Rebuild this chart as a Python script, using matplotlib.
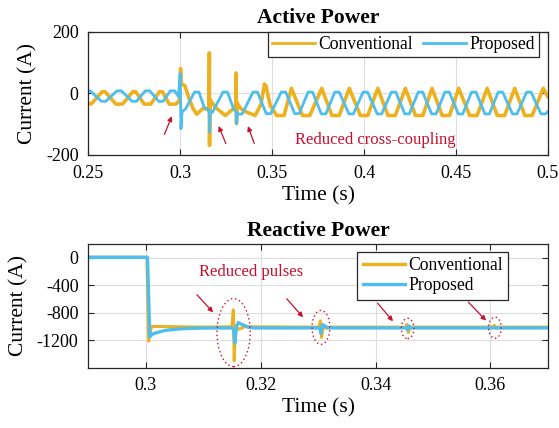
import matplotlib
matplotlib.use("Agg")
import matplotlib.pyplot as plt
from matplotlib.patches import Ellipse

# --- data ---
# Active power: q-axis current (time, value)
t_conv_ap = [0.2500, 0.2515, 0.2575, 0.2591, 0.2650, 0.2686, 0.2742, 0.2758,
             0.2804, 0.2840, 0.2887, 0.2903, 0.2940, 0.2976, 0.2995, 0.3002,
             0.3006, 0.3025, 0.3050, 0.3070, 0.3090, 0.3125, 0.3157, 0.31585,
             0.31595, 0.3162, 0.3190, 0.3245, 0.3285, 0.33025, 0.3304, 0.3306,
             0.3309, 0.3330, 0.3365, 0.3408, 0.3440, 0.3458, 0.3466, 0.3490,
             0.3525, 0.3565, 0.3605, 0.3665, 0.3705, 0.3770, 0.3825, 0.3865,
             0.3920, 0.3980, 0.4020, 0.4075, 0.4130, 0.4170, 0.4225, 0.4280,
             0.4320, 0.4370, 0.4425, 0.4465, 0.4515, 0.4575, 0.4615, 0.4670,
             0.4725, 0.4765, 0.4820, 0.4875, 0.4915, 0.4975, 0.5000]
i_conv_ap = [-32, -35, 5, 5, -35, -35, 5, 5,
             -35, -35, 5, 5, -35, -35, -25, 80,
             30, 25, -20, -50, -68, -48, -55, 131,
             -169, -20, -45, -72, -52, -50, 66, -98,
             -30, -50, -62, -72, -35, 30, 25, -40,
             -72, -72, 16, -72, -72, 16, -72, -72,
             16, -72, -72, 16, -72, -72, 16, -72,
             -72, 16, -72, -72, 16, -72, -72, 16,
             -72, -72, 16, -72, -72, 16, -10]

t_prop_ap = [0.2500, 0.2510, 0.2571, 0.2595, 0.2656, 0.2680, 0.2738, 0.2762,
             0.2810, 0.2834, 0.2883, 0.2907, 0.2946, 0.2970, 0.2990, 0.3000,
             0.3004, 0.3010, 0.3030, 0.3078, 0.3102, 0.3130, 0.3157, 0.3159,
             0.3162, 0.3175, 0.3233, 0.3257, 0.3290, 0.3305, 0.3307, 0.3310,
             0.3326, 0.3338, 0.3396, 0.3420, 0.3468, 0.3492, 0.3550, 0.3574,
             0.3623, 0.3647, 0.3696, 0.3720, 0.3768, 0.3792, 0.3841, 0.3865,
             0.3918, 0.3942, 0.3995, 0.4019, 0.4072, 0.4096, 0.4149, 0.4173,
             0.4222, 0.4246, 0.4295, 0.4319, 0.4368, 0.4392, 0.4440, 0.4464,
             0.4513, 0.4537, 0.4585, 0.4609, 0.4658, 0.4682, 0.4730, 0.4754,
             0.4808, 0.4832, 0.4885, 0.4909, 0.4963, 0.4987, 0.5000]
i_prop_ap = [8, 8, -26, -26, 8, 8, -26, -26,
             8, 8, -26, -26, 8, 8, -10, 65,
             -115, -60, -50, 4, 4, -45, -55, -126,
             -60, -62, 4, 4, -50, -60, -99, -65,
             -68, -66, 4, 4, -66, -66, 4, 4,
             -66, -66, 4, 4, -67, -67, 4, 4,
             -67, -67, 4, 4, -67, -67, 4, 4,
             -67, -67, 4, 4, -67, -67, 4, 4,
             -67, -67, 4, 4, -67, -67, 4, 4,
             -67, -67, 4, 4, -67, -67, -60]

# Reactive power: d-axis current
t_conv_rp = [0.2900, 0.3002, 0.3005, 0.3010, 0.3100, 0.3150, 0.31525, 0.3154,
             0.3156, 0.3162, 0.3172, 0.3302, 0.3304, 0.3306, 0.3309, 0.3315,
             0.3322, 0.3453, 0.3455, 0.3457, 0.3460, 0.3605, 0.3607, 0.3610,
             0.3613, 0.3700]
i_conv_rp = [8, 8, -1215, -1000, -1010, -1005, -760, -1500,
             -1000, -1040, -1005, -1010, -920, -1160, -1000, -1030,
             -1010, -1010, -970, -1090, -1010, -1010, -985, -1025,
             -1010, -1010]

t_prop_rp = [0.2900, 0.3003, 0.3007, 0.3012, 0.3019, 0.3036, 0.3060, 0.3095,
             0.3150, 0.3153, 0.3155, 0.3158, 0.3161, 0.3168, 0.3180, 0.3190,
             0.3303, 0.3305, 0.3308, 0.3315, 0.3320, 0.3454, 0.3456, 0.3458,
             0.3462, 0.3700]
i_prop_rp = [5, 5, -1150, -1110, -1090, -1055, -1035, -1024,
             -1022, -1050, -1240, -1000, -945, -975, -1015, -1022,
             -1022, -1100, -975, -1010, -1022, -1022, -1050, -995,
             -1022, -1022]

labels = ["Conventional", "Proposed"]
colors = ["#EDB120", "#4DBEEE"]

plt.rcParams["font.family"] = ["Liberation Serif", "DejaVu Serif"]
plt.rcParams["axes.unicode_minus"] = False

fig = plt.figure(figsize=(5.59, 4.28), dpi=100)
ax1 = fig.add_axes([0.158, 0.638, 0.822, 0.288])
ax2 = fig.add_axes([0.158, 0.141, 0.822, 0.289])

red = "#C8102E"

def style(ax):
    ax.grid(True, color="#dedede", lw=0.8)
    ax.set_axisbelow(True)
    ax.tick_params(direction="in", top=True, right=True, length=4,
                   labelsize=13, pad=7, color="#262626")
    for s in ax.spines.values():
        s.set_color("#262626")
        s.set_linewidth(0.9)

# Active power
ax1.plot(t_conv_ap, i_conv_ap, color=colors[0], lw=2.6, label=labels[0])
ax1.plot(t_prop_ap, i_prop_ap, color=colors[1], lw=2.0, label=labels[1])
ax1.set_xlim(0.25, 0.5)
ax1.set_ylim(-200, 200)
ax1.set_xticks([0.25, 0.3, 0.35, 0.4, 0.45, 0.5])
ax1.set_xticklabels(["0.25", "0.3", "0.35", "0.4", "0.45", "0.5"])
ax1.set_yticks([-200, 0, 200])
style(ax1)
ax1.set_xlabel("Time (s)", fontsize=15.5, labelpad=3)
ax1.set_ylabel("Current (A)", fontsize=15.5, labelpad=6)
ax1.set_title("Active Power", fontsize=15.5, fontweight="bold", pad=6)
leg1 = ax1.legend(loc="upper right", bbox_to_anchor=(0.981, 1.0), ncol=2,
                  fontsize=12.7, borderaxespad=0, handlelength=2.4,
                  handletextpad=0.2, columnspacing=0.6, borderpad=0.25,
                  fancybox=False, framealpha=1, edgecolor="#262626")
leg1.get_frame().set_linewidth(0.9)
for h in leg1.get_lines():
    h.set_linewidth(2.0)

arrow = dict(arrowstyle="-|>", color=red, lw=0.9, mutation_scale=7)
ax1.annotate("", xy=(0.2960, -66), xytext=(0.2908, -142), arrowprops=arrow)
ax1.annotate("", xy=(0.3203, -98), xytext=(0.3254, -171), arrowprops=arrow)
ax1.annotate("", xy=(0.3363, -98), xytext=(0.3408, -171), arrowprops=arrow)
ax1.text(0.4061, -153, "Reduced cross-coupling", color=red, fontsize=12,
         ha="center", va="center")

# Reactive power
ax2.plot(t_conv_rp, i_conv_rp, color=colors[0], lw=2.2, label=labels[0])
ax2.plot(t_prop_rp, i_prop_rp, color=colors[1], lw=2.4, label=labels[1])
ax2.set_xlim(0.29, 0.37)
ax2.set_ylim(-1600, 200)
ax2.set_xticks([0.3, 0.32, 0.34, 0.36])
ax2.set_xticklabels(["0.3", "0.32", "0.34", "0.36"])
ax2.set_yticks([-1200, -800, -400, 0])
style(ax2)
ax2.set_xlabel("Time (s)", fontsize=15.5, labelpad=3)
ax2.set_ylabel("Current (A)", fontsize=15.5, labelpad=6)
ax2.set_title("Reactive Power", fontsize=15.5, fontweight="bold", pad=6)
leg2 = ax2.legend(loc="upper right", bbox_to_anchor=(0.914, 0.938),
                  fontsize=12.7, borderaxespad=0, handlelength=2.4,
                  handletextpad=0.2, labelspacing=0.2, borderpad=0.3,
                  fancybox=False, framealpha=1, edgecolor="#262626")
leg2.get_frame().set_linewidth(0.9)
for h in leg2.get_lines():
    h.set_linewidth(2.4)

for xy, w, h in [((0.3153, -1090), 0.0058, 990), ((0.3305, -1014), 0.0031, 494),
                 ((0.3456, -1030), 0.0022, 295), ((0.3608, -1019), 0.0022, 310)]:
    ax2.add_patch(Ellipse(xy, w, h, fill=False, edgecolor=red, lw=1.0,
                          linestyle=(0, (1, 2)), zorder=5))
ax2.annotate("", xy=(0.31205, -825), xytext=(0.30857, -509), arrowprops=arrow)
ax2.annotate("", xy=(0.32771, -897), xytext=(0.32423, -567), arrowprops=arrow)
ax2.annotate("", xy=(0.34336, -956), xytext=(0.34005, -631), arrowprops=arrow)
ax2.annotate("", xy=(0.35958, -945), xytext=(0.35583, -617), arrowprops=arrow)
ax2.text(0.3183, -214, "Reduced pulses", color=red, fontsize=12,
         ha="center", va="center")

fig.savefig("out.png", dpi=100)
